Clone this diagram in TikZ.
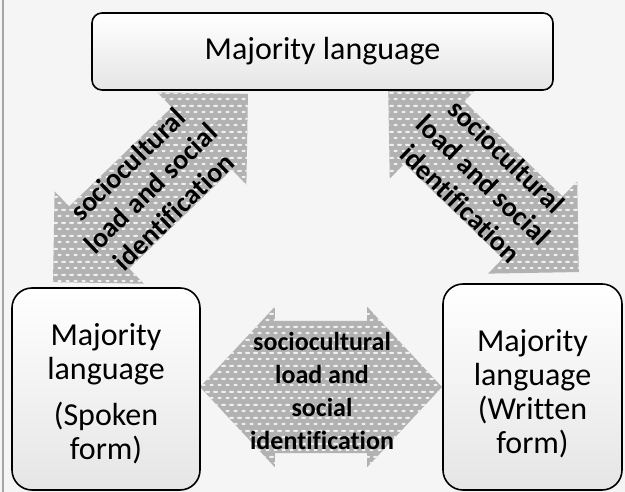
\documentclass[tikz,border=0pt]{standalone}
\usepackage{fontspec}
\setmainfont{Carlito}[Ligatures=NoCommon]
\usetikzlibrary{shapes.arrows,patterns}

% grey fill with small light ovals
\pgfdeclarepatternformonly{ovaldots}{\pgfpointorigin}{\pgfpoint{8pt}{13pt}}{\pgfpoint{8pt}{13pt}}{%
  \pgfpathellipse{\pgfpoint{4pt}{3.25pt}}{\pgfpoint{2.3pt}{0pt}}{\pgfpoint{0pt}{1.2pt}}%
  \pgfpathellipse{\pgfpoint{0pt}{9.75pt}}{\pgfpoint{2.3pt}{0pt}}{\pgfpoint{0pt}{1.2pt}}%
  \pgfpathellipse{\pgfpoint{8pt}{9.75pt}}{\pgfpoint{2.3pt}{0pt}}{\pgfpoint{0pt}{1.2pt}}%
  \pgfusepath{fill}%
}

\begin{document}
\begin{tikzpicture}[x=1pt,y=-1pt,
    langbox/.style={draw,line width=1.6pt,top color=white,bottom color=black!10,inner sep=0pt},
    blockarrow/.style={double arrow,double arrow head extend=21pt,inner xsep=0pt,inner ysep=43pt,
        preaction={fill=gray!60},pattern=ovaldots,pattern color=white!88!gray},
    arrowtext/.style={align=center,font=\fontsize{26}{33}\selectfont\bfseries},
    diagtext/.style={align=center,font=\fontsize{28}{33}\selectfont\bfseries},
    boxtext/.style={align=center,font=\fontsize{32}{34}\selectfont}]

    \useasboundingbox (0,0) rectangle (625,492);
    \fill[black!4] (0,0) rectangle (625,492);
    \draw[gray!70,line width=2pt] (2.5,0) -- (2.5,492);

    % block arrows
    \node[blockarrow,minimum height=271pt,rotate=44] (uparrow) at (150.5,188) {};
    \node[blockarrow,minimum height=265pt,rotate=-44] (downarrow) at (483.5,180) {};
    \node[blockarrow,double arrow head extend=14pt,inner ysep=66pt,double arrow tip angle=94,
        minimum height=242pt] (midarrow) at (321,387) {};

    \node[diagtext,rotate=44] (uptext) at (uparrow.center) {sociocultural\\load and social\\identification};
    \node[diagtext,rotate=-44] (downtext) at (downarrow.center) {sociocultural\\load and social\\identification};
    \node[arrowtext] (midtext) at (322,391) {sociocultural\\load and\\social\\identification};

    % boxes
    \node[langbox,rounded corners=10pt,minimum width=461pt,minimum height=77pt] (majority) at (322.5,51.5) {};
    \node[boxtext] (majoritytext) at (majority.center) {Majority language};

    \node[langbox,rounded corners=20pt,minimum width=188pt,minimum height=202pt] (spoken) at (106,389) {};
    \node[boxtext] (spokentext) at (106,394) {Majority\\language\\[12pt](Spoken\\form)};

    \node[langbox,rounded corners=20pt,minimum width=179pt,minimum height=206pt] (written) at (532.5,387) {};
    \node[boxtext] (writtentext) at (532.5,394) {Majority\\language\\(Written\\form)};

\end{tikzpicture}
\end{document}
